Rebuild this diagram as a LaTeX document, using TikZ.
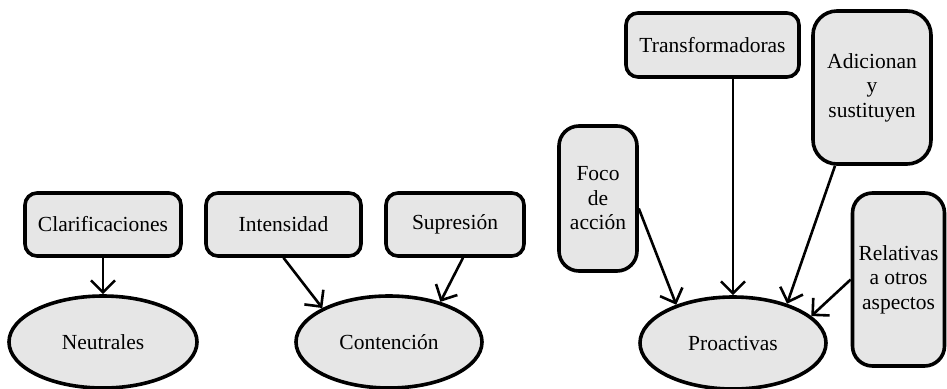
\documentclass[tikz,border=0pt]{standalone}
\usepackage{fontspec}
\setmainfont{Liberation Serif}
\usetikzlibrary{arrows.meta,shapes.geometric}
\definecolor{boxfill}{HTML}{E6E6E6}
\begin{document}
\begin{tikzpicture}[x=1pt,y=1pt,
  box/.style={draw=black,line width=3.6pt,fill=boxfill,rounded corners=12pt,inner sep=0pt,align=center,
    font=\fontsize{21.5}{24.5}\selectfont},
  tallbox/.style={box,rounded corners=20pt},
  oval/.style={draw=black,line width=3.6pt,fill=boxfill,ellipse,inner sep=0pt,
    minimum width=186pt,minimum height=92pt,font=\fontsize{21.5}{24.5}\selectfont},
  conn/.style={line width=2.6pt,-{Straight Barb[length=12pt,width=24pt,line width=2.6pt]}}]
\path[use as bounding box] (0,0) rectangle (947,-388);

% top boxes
\node[box,minimum width=156pt,minimum height=63pt] (cla) at (103,-224.5) {Clarificaciones};
\node[box,minimum width=155pt,minimum height=63pt] (int) at (283.5,-224.5) {Intensidad};
\node[box,minimum width=138pt,minimum height=63pt] (sup) at (455,-224.5) {Supresión};
\node[tallbox,minimum width=78pt,minimum height=145pt] (foc) at (598,-198.5) {Foco\\de\\acción};
\node[box,minimum width=173pt,minimum height=64pt] (tra) at (712.5,-45) {Transformadoras};
\node[tallbox,rounded corners=24pt,minimum width=118pt,minimum height=153pt] (adi) at (872,-87.5) {Adicionan\\y\\sustituyen};
\node[tallbox,minimum width=92pt,minimum height=173pt] (rel) at (898.5,-279.5) {Relativas\\a otros\\aspectos};

% ellipses
\node[oval,minimum width=188pt] (neu) at (103,-342) {Neutrales};
\node[oval] (con) at (389,-342) {Contención};
\node[oval] (pro) at (733,-343) {Proactivas};

% connectors
\draw[conn] (cla.south) -- (neu.north);
\draw[conn] (int.south) -- (con.153);
\draw[conn] ([xshift=8pt]sup.south) -- (con.38);
\draw[conn] ([yshift=-10pt]foc.east) -- (pro.146);
\draw[conn] ([xshift=20.5pt]tra.south) -- (pro.north);
\draw[conn] ([xshift=-37pt]adi.south) -- (pro.36);
\draw[conn] (rel.west) -- (pro.19);
\end{tikzpicture}
\end{document}
